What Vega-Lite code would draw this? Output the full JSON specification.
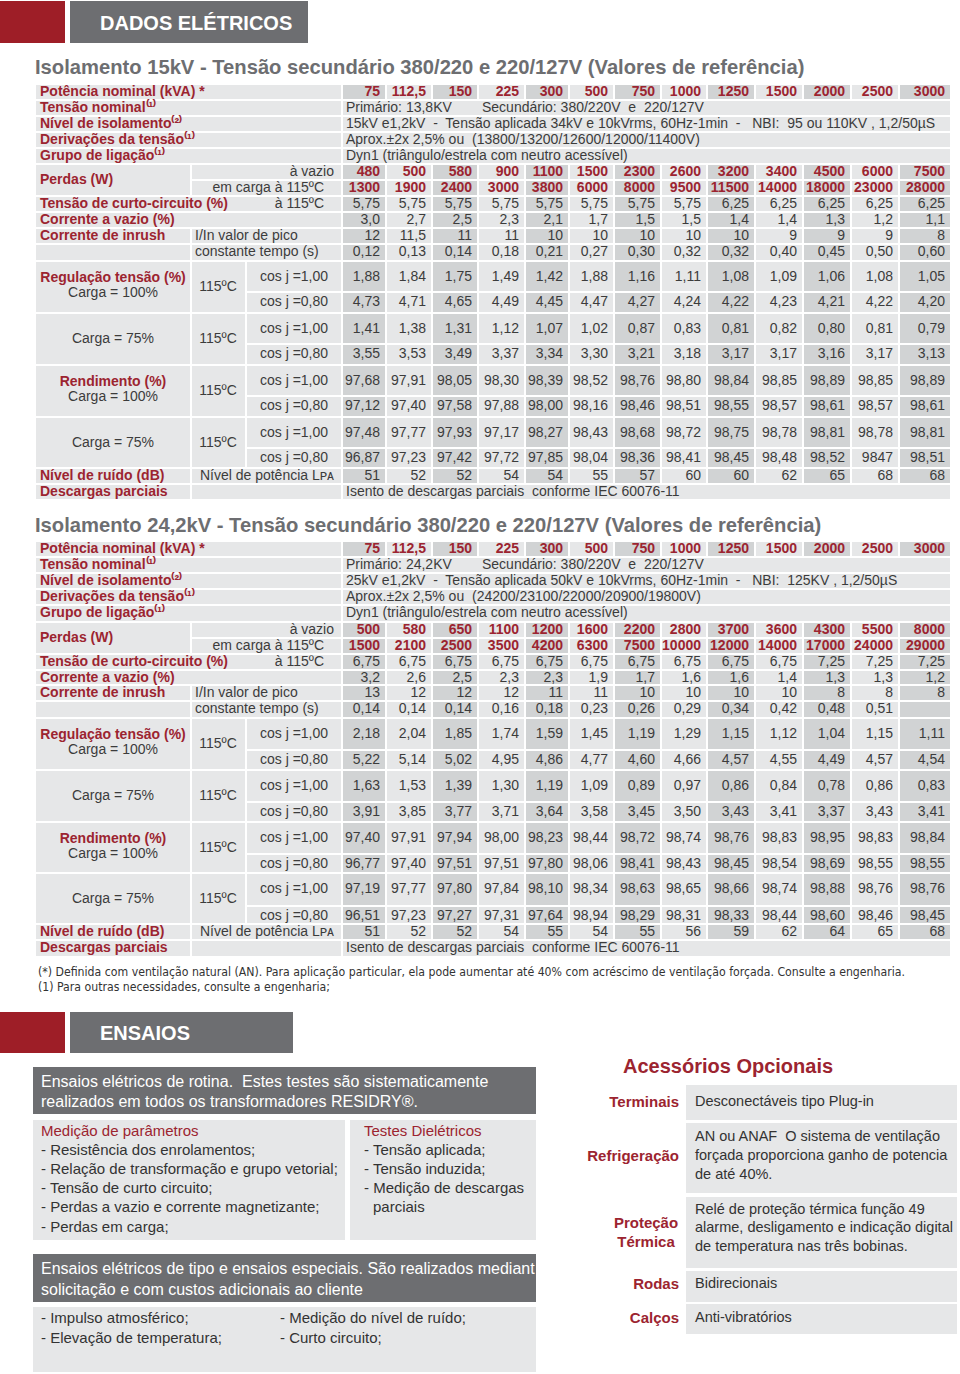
{
"$schema": "https://vega.github.io/schema/vega-lite/v6.json",
"width": 960, "height": 1374,
"autosize": {"type": "fit", "contains": "padding"},
"padding": 0,
"background": "#ffffff",
"config": {"view": {"stroke": null}, "text": {"font": "Liberation Sans"}},
"datasets": {
"tcells": [
{"c0":-3,"c1":0,"r0":0,"r1":1},{"c0":0,"c1":13,"r0":0,"r1":1},
{"c0":-3,"c1":0,"r0":1,"r1":2},{"c0":0,"c1":13,"r0":1,"r1":2},
{"c0":-3,"c1":0,"r0":2,"r1":3},{"c0":0,"c1":13,"r0":2,"r1":3},
{"c0":-3,"c1":0,"r0":3,"r1":4},{"c0":0,"c1":13,"r0":3,"r1":4},
{"c0":-3,"c1":0,"r0":4,"r1":5},{"c0":0,"c1":13,"r0":4,"r1":5},
{"c0":-3,"c1":-2,"r0":5,"r1":7},{"c0":-2,"c1":0,"r0":5,"r1":6},{"c0":-2,"c1":0,"r0":6,"r1":7},
{"c0":0,"c1":13,"r0":5,"r1":11},
{"c0":-3,"c1":0,"r0":7,"r1":8},
{"c0":-3,"c1":0,"r0":8,"r1":9},
{"c0":-3,"c1":-2,"r0":9,"r1":10},{"c0":-2,"c1":0,"r0":9,"r1":10},
{"c0":-3,"c1":-2,"r0":10,"r1":11},{"c0":-2,"c1":0,"r0":10,"r1":11},
{"c0":-3,"c1":-2,"r0":11,"r1":13},{"c0":-2,"c1":-1,"r0":11,"r1":13},{"c0":-1,"c1":0,"r0":11,"r1":12},{"c0":-1,"c1":0,"r0":12,"r1":13},
{"c0":-3,"c1":-2,"r0":13,"r1":15},{"c0":-2,"c1":-1,"r0":13,"r1":15},{"c0":-1,"c1":0,"r0":13,"r1":14},{"c0":-1,"c1":0,"r0":14,"r1":15},
{"c0":-3,"c1":-2,"r0":15,"r1":17},{"c0":-2,"c1":-1,"r0":15,"r1":17},{"c0":-1,"c1":0,"r0":15,"r1":16},{"c0":-1,"c1":0,"r0":16,"r1":17},
{"c0":-3,"c1":-2,"r0":17,"r1":19},{"c0":-2,"c1":-1,"r0":17,"r1":19},{"c0":-1,"c1":0,"r0":17,"r1":18},{"c0":-1,"c1":0,"r0":18,"r1":19},
{"c0":0,"c1":13,"r0":11,"r1":20},
{"c0":-3,"c1":-2,"r0":19,"r1":20},{"c0":-2,"c1":0,"r0":19,"r1":20},
{"c0":-3,"c1":-2,"r0":20,"r1":21},{"c0":-2,"c1":0,"r0":20,"r1":21},{"c0":0,"c1":13,"r0":20,"r1":21}
],
"tstripes": [
{"c0":0,"c1":1,"r0":0,"r1":1},{"c0":2,"c1":3,"r0":0,"r1":1},{"c0":4,"c1":5,"r0":0,"r1":1},{"c0":6,"c1":7,"r0":0,"r1":1},{"c0":8,"c1":9,"r0":0,"r1":1},{"c0":10,"c1":11,"r0":0,"r1":1},{"c0":12,"c1":13,"r0":0,"r1":1},
{"c0":0,"c1":1,"r0":5,"r1":11},{"c0":2,"c1":3,"r0":5,"r1":11},{"c0":4,"c1":5,"r0":5,"r1":11},{"c0":6,"c1":7,"r0":5,"r1":11},{"c0":8,"c1":9,"r0":5,"r1":11},{"c0":10,"c1":11,"r0":5,"r1":11},{"c0":12,"c1":13,"r0":5,"r1":11},
{"c0":0,"c1":1,"r0":11,"r1":20},{"c0":2,"c1":3,"r0":11,"r1":20},{"c0":4,"c1":5,"r0":11,"r1":20},{"c0":6,"c1":7,"r0":11,"r1":20},{"c0":8,"c1":9,"r0":11,"r1":20},{"c0":10,"c1":11,"r0":11,"r1":20},{"c0":12,"c1":13,"r0":11,"r1":20}
],
"tseps": [{"r":6},{"r":7},{"r":8},{"r":9},{"r":10},{"r":12},{"r":13},{"r":14},{"r":15},{"r":16},{"r":17},{"r":18},{"r":19}],
"cols": [{"kva":"75","k":1},{"kva":"112,5","k":2},{"kva":"150","k":3},{"kva":"225","k":4},{"kva":"300","k":5},{"kva":"500","k":6},{"kva":"750","k":7},{"kva":"1000","k":8},{"kva":"1250","k":9},{"kva":"1500","k":10},{"kva":"2000","k":11},{"kva":"2500","k":12},{"kva":"3000","k":13}],
"tlabels": [
{"r":0,"c":-3,"role":"main","t":"Potência nominal (kVA) *"},
{"r":1,"c":-3,"role":"main","t":"Tensão nominal⁽¹⁾"},
{"r":2,"c":-3,"role":"main","t":"Nível de isolamento⁽²⁾"},
{"r":3,"c":-3,"role":"main","t":"Derivações da tensão⁽¹⁾"},
{"r":4,"c":-3,"role":"main","t":"Grupo de ligação⁽¹⁾"},
{"r":5,"c":-3,"role":"mainMid","t":"Perdas (W)"},
{"r":5,"c":0,"role":"subR","t":"à vazio"},
{"r":6,"c":0,"role":"subR2","t":"em carga à 115ºC"},
{"r":7,"c":-3,"role":"main","t":"Tensão de curto-circuito (%)"},
{"r":7,"c":0,"role":"subR2","t":"à 115ºC"},
{"r":8,"c":-3,"role":"main","t":"Corrente a vazio (%)"},
{"r":9,"c":-3,"role":"main","t":"Corrente de inrush"},
{"r":9,"c":-2,"role":"subL","t":"I/In valor de pico"},
{"r":10,"c":-2,"role":"subL","t":"constante tempo (s)"},
{"r":11,"c":-3,"role":"blockTitle","t":"Regulação tensão (%)"},
{"r":11,"c":-3,"role":"blockSub","t":"Carga = 100%"},
{"r":13,"c":-3,"role":"blockOne","t":"Carga = 75%"},
{"r":15,"c":-3,"role":"blockTitle","t":"Rendimento (%)"},
{"r":15,"c":-3,"role":"blockSub","t":"Carga = 100%"},
{"r":17,"c":-3,"role":"blockOne","t":"Carga = 75%"},
{"r":11,"c":-2,"role":"temp","t":"115ºC"},
{"r":13,"c":-2,"role":"temp","t":"115ºC"},
{"r":15,"c":-2,"role":"temp","t":"115ºC"},
{"r":17,"c":-2,"role":"temp","t":"115ºC"},
{"r":11,"c":-1,"role":"cos","t":"cos j =1,00"},
{"r":12,"c":-1,"role":"cos","t":"cos j =0,80"},
{"r":13,"c":-1,"role":"cos","t":"cos j =1,00"},
{"r":14,"c":-1,"role":"cos","t":"cos j =0,80"},
{"r":15,"c":-1,"role":"cos","t":"cos j =1,00"},
{"r":16,"c":-1,"role":"cos","t":"cos j =0,80"},
{"r":17,"c":-1,"role":"cos","t":"cos j =1,00"},
{"r":18,"c":-1,"role":"cos","t":"cos j =0,80"},
{"r":19,"c":-3,"role":"main","t":"Nível de ruído (dB)"},
{"r":19,"c":0,"role":"subR","t":"Nível de potência Lᴘᴀ"},
{"r":20,"c":-3,"role":"main","t":"Descargas parciais"}
],
"spans1": [
{"r":1,"c":0,"t":"Primário: 13,8KV"},
{"r":1,"c":3,"t":"Secundário: 380/220V\u00a0 e\u00a0 220/127V"},
{"r":2,"c":0,"t":"15kV e1,2kV\u00a0 -\u00a0 Tensão aplicada 34kV e 10kVrms, 60Hz-1min\u00a0 -\u00a0\u00a0 NBI:\u00a0 95 ou 110KV , 1,2/50µS"},
{"r":3,"c":0,"t":"Aprox.±2x 2,5% ou\u00a0 (13800/13200/12600/12000/11400V)"},
{"r":4,"c":0,"t":"Dyn1 (triângulo/estrela com neutro acessível)"},
{"r":20,"c":0,"t":"Isento de descargas parciais\u00a0 conforme IEC 60076-11"}
],
"spans2": [
{"r":1,"c":0,"t":"Primário: 24,2KV"},
{"r":1,"c":3,"t":"Secundário: 380/220V\u00a0 e\u00a0 220/127V"},
{"r":2,"c":0,"t":"25kV e1,2kV\u00a0 -\u00a0 Tensão aplicada 50kV e 10kVrms, 60Hz-1min\u00a0 -\u00a0\u00a0 NBI:\u00a0 125KV , 1,2/50µS"},
{"r":3,"c":0,"t":"Aprox.±2x 2,5% ou\u00a0 (24200/23100/22000/20900/19800V)"},
{"r":4,"c":0,"t":"Dyn1 (triângulo/estrela com neutro acessível)"},
{"r":20,"c":0,"t":"Isento de descargas parciais\u00a0 conforme IEC 60076-11"}
],
"vals1": [
{"r":5,"75":"480","112,5":"500","150":"580","225":"900","300":"1100","500":"1500","750":"2300","1000":"2600","1250":"3200","1500":"3400","2000":"4500","2500":"6000","3000":"7500"},
{"r":6,"75":"1300","112,5":"1900","150":"2400","225":"3000","300":"3800","500":"6000","750":"8000","1000":"9500","1250":"11500","1500":"14000","2000":"18000","2500":"23000","3000":"28000"},
{"r":7,"75":"5,75","112,5":"5,75","150":"5,75","225":"5,75","300":"5,75","500":"5,75","750":"5,75","1000":"5,75","1250":"6,25","1500":"6,25","2000":"6,25","2500":"6,25","3000":"6,25"},
{"r":8,"75":"3,0","112,5":"2,7","150":"2,5","225":"2,3","300":"2,1","500":"1,7","750":"1,5","1000":"1,5","1250":"1,4","1500":"1,4","2000":"1,3","2500":"1,2","3000":"1,1"},
{"r":9,"75":"12","112,5":"11,5","150":"11","225":"11","300":"10","500":"10","750":"10","1000":"10","1250":"10","1500":"9","2000":"9","2500":"9","3000":"8"},
{"r":10,"75":"0,12","112,5":"0,13","150":"0,14","225":"0,18","300":"0,21","500":"0,27","750":"0,30","1000":"0,32","1250":"0,32","1500":"0,40","2000":"0,45","2500":"0,50","3000":"0,60"},
{"r":11,"75":"1,88","112,5":"1,84","150":"1,75","225":"1,49","300":"1,42","500":"1,88","750":"1,16","1000":"1,11","1250":"1,08","1500":"1,09","2000":"1,06","2500":"1,08","3000":"1,05"},
{"r":12,"75":"4,73","112,5":"4,71","150":"4,65","225":"4,49","300":"4,45","500":"4,47","750":"4,27","1000":"4,24","1250":"4,22","1500":"4,23","2000":"4,21","2500":"4,22","3000":"4,20"},
{"r":13,"75":"1,41","112,5":"1,38","150":"1,31","225":"1,12","300":"1,07","500":"1,02","750":"0,87","1000":"0,83","1250":"0,81","1500":"0,82","2000":"0,80","2500":"0,81","3000":"0,79"},
{"r":14,"75":"3,55","112,5":"3,53","150":"3,49","225":"3,37","300":"3,34","500":"3,30","750":"3,21","1000":"3,18","1250":"3,17","1500":"3,17","2000":"3,16","2500":"3,17","3000":"3,13"},
{"r":15,"75":"97,68","112,5":"97,91","150":"98,05","225":"98,30","300":"98,39","500":"98,52","750":"98,76","1000":"98,80","1250":"98,84","1500":"98,85","2000":"98,89","2500":"98,85","3000":"98,89"},
{"r":16,"75":"97,12","112,5":"97,40","150":"97,58","225":"97,88","300":"98,00","500":"98,16","750":"98,46","1000":"98,51","1250":"98,55","1500":"98,57","2000":"98,61","2500":"98,57","3000":"98,61"},
{"r":17,"75":"97,48","112,5":"97,77","150":"97,93","225":"97,17","300":"98,27","500":"98,43","750":"98,68","1000":"98,72","1250":"98,75","1500":"98,78","2000":"98,81","2500":"98,78","3000":"98,81"},
{"r":18,"75":"96,87","112,5":"97,23","150":"97,42","225":"97,72","300":"97,85","500":"98,04","750":"98,36","1000":"98,41","1250":"98,45","1500":"98,48","2000":"98,52","2500":"9847","3000":"98,51"},
{"r":19,"75":"51","112,5":"52","150":"52","225":"54","300":"54","500":"55","750":"57","1000":"60","1250":"60","1500":"62","2000":"65","2500":"68","3000":"68"}
],
"vals2": [
{"r":5,"75":"500","112,5":"580","150":"650","225":"1100","300":"1200","500":"1600","750":"2200","1000":"2800","1250":"3700","1500":"3600","2000":"4300","2500":"5500","3000":"8000"},
{"r":6,"75":"1500","112,5":"2100","150":"2500","225":"3500","300":"4200","500":"6300","750":"7500","1000":"10000","1250":"12000","1500":"14000","2000":"17000","2500":"24000","3000":"29000"},
{"r":7,"75":"6,75","112,5":"6,75","150":"6,75","225":"6,75","300":"6,75","500":"6,75","750":"6,75","1000":"6,75","1250":"6,75","1500":"6,75","2000":"7,25","2500":"7,25","3000":"7,25"},
{"r":8,"75":"3,2","112,5":"2,6","150":"2,5","225":"2,3","300":"2,3","500":"1,9","750":"1,7","1000":"1,6","1250":"1,6","1500":"1,4","2000":"1,3","2500":"1,3","3000":"1,2"},
{"r":9,"75":"13","112,5":"12","150":"12","225":"12","300":"11","500":"11","750":"10","1000":"10","1250":"10","1500":"10","2000":"8","2500":"8","3000":"8"},
{"r":10,"75":"0,14","112,5":"0,14","150":"0,14","225":"0,16","300":"0,18","500":"0,23","750":"0,26","1000":"0,29","1250":"0,34","1500":"0,42","2000":"0,48","2500":"0,51","3000":""},
{"r":11,"75":"2,18","112,5":"2,04","150":"1,85","225":"1,74","300":"1,59","500":"1,45","750":"1,19","1000":"1,29","1250":"1,15","1500":"1,12","2000":"1,04","2500":"1,15","3000":"1,11"},
{"r":12,"75":"5,22","112,5":"5,14","150":"5,02","225":"4,95","300":"4,86","500":"4,77","750":"4,60","1000":"4,66","1250":"4,57","1500":"4,55","2000":"4,49","2500":"4,57","3000":"4,54"},
{"r":13,"75":"1,63","112,5":"1,53","150":"1,39","225":"1,30","300":"1,19","500":"1,09","750":"0,89","1000":"0,97","1250":"0,86","1500":"0,84","2000":"0,78","2500":"0,86","3000":"0,83"},
{"r":14,"75":"3,91","112,5":"3,85","150":"3,77","225":"3,71","300":"3,64","500":"3,58","750":"3,45","1000":"3,50","1250":"3,43","1500":"3,41","2000":"3,37","2500":"3,43","3000":"3,41"},
{"r":15,"75":"97,40","112,5":"97,91","150":"97,94","225":"98,00","300":"98,23","500":"98,44","750":"98,72","1000":"98,74","1250":"98,76","1500":"98,83","2000":"98,95","2500":"98,83","3000":"98,84"},
{"r":16,"75":"96,77","112,5":"97,40","150":"97,51","225":"97,51","300":"97,80","500":"98,06","750":"98,41","1000":"98,43","1250":"98,45","1500":"98,54","2000":"98,69","2500":"98,55","3000":"98,55"},
{"r":17,"75":"97,19","112,5":"97,77","150":"97,80","225":"97,84","300":"98,10","500":"98,34","750":"98,63","1000":"98,65","1250":"98,66","1500":"98,74","2000":"98,88","2500":"98,76","3000":"98,76"},
{"r":18,"75":"96,51","112,5":"97,23","150":"97,27","225":"97,31","300":"97,64","500":"98,94","750":"98,29","1000":"98,31","1250":"98,33","1500":"98,44","2000":"98,60","2500":"98,46","3000":"98,45"},
{"r":19,"75":"51","112,5":"52","150":"52","225":"54","300":"55","500":"54","750":"55","1000":"56","1250":"59","1500":"62","2000":"64","2500":"65","3000":"68"}
],
"redboxes": [{"col0":0,"col1":5,"line0":0,"line1":2},{"col0":0,"col1":5,"line0":7,"line1":9}],
"grayboxes": [{"col0":6,"col1":10,"line0":0,"line1":2},{"col0":6,"col1":9,"line0":7,"line1":9},{"col0":1,"col1":14,"line0":10,"line1":14},{"col0":1,"col1":14,"line0":34,"line1":40}],
"lightboxes": [{"col0":1,"col1":11,"line0":15,"line1":31},{"col0":12,"col1":14,"line0":15,"line1":31},{"col0":1,"col1":14,"line0":42,"line1":46},{"col0":17,"col1":19,"line0":12,"line1":15},{"col0":17,"col1":19,"line0":16,"line1":24},{"col0":17,"col1":19,"line0":25,"line1":35},{"col0":17,"col1":19,"line0":37,"line1":40},{"col0":17,"col1":19,"line0":41,"line1":44}],
"ptexts": [
{"col":7,"line":1,"role":"hdr","t":"DADOS ELÉTRICOS"},
{"col":7,"line":8,"role":"hdr","t":"ENSAIOS"},
{"col":2,"line":3,"role":"title","t":"Isolamento 15kV - Tensão secundário 380/220 e 220/127V (Valores de referência)"},
{"col":2,"line":4,"role":"title","t":"Isolamento 24,2kV - Tensão secundário 380/220 e 220/127V (Valores de referência)"},
{"col":3,"line":5,"role":"foot","t":"(*) Definida com ventilação natural (AN). Para aplicação particular, ela pode aumentar até 40% com acréscimo de ventilação forçada. Consulte a engenharia."},
{"col":3,"line":6,"role":"foot","t":"(1) Para outras necessidades, consulte a engenharia;"},
{"col":4,"line":11,"role":"boxw","t":"Ensaios elétricos de rotina.\u00a0 Estes testes são sistematicamente"},
{"col":4,"line":13,"role":"boxw","t":"realizados em todos os transformadores RESIDRY®."},
{"col":4,"line":36,"role":"boxw","t":"Ensaios elétricos de tipo e ensaios especiais. São realizados mediante"},
{"col":4,"line":39,"role":"boxw","t":"solicitação e com custos adicionais ao cliente"},
{"col":4,"line":17,"role":"subhead","t":"Medição de parâmetros"},
{"col":13,"line":17,"role":"subhead","t":"Testes Dielétricos"},
{"col":4,"line":19,"role":"item","t":"- Resistência dos enrolamentos;"},
{"col":4,"line":21,"role":"item","t":"- Relação de transformação e grupo vetorial;"},
{"col":4,"line":23,"role":"item","t":"- Tensão de curto circuito;"},
{"col":4,"line":26,"role":"item","t":"- Perdas a vazio e corrente magnetizante;"},
{"col":4,"line":29,"role":"item","t":"- Perdas em carga;"},
{"col":13,"line":19,"role":"item","t":"- Tensão aplicada;"},
{"col":13,"line":21,"role":"item","t":"- Tensão induzida;"},
{"col":13,"line":23,"role":"item","t":"- Medição de descargas"},
{"col":13,"line":26,"role":"itemIndent","t":"parciais"},
{"col":4,"line":43,"role":"item","t":"- Impulso atmosférico;"},
{"col":4,"line":45,"role":"item","t":"- Elevação de temperatura;"},
{"col":8,"line":43,"role":"item","t":"- Medição do nível de ruído;"},
{"col":8,"line":45,"role":"item","t":"- Curto circuito;"},
{"col":15,"line":10,"role":"acctitle","t":"Acessórios Opcionais"},
{"col":16,"line":13,"role":"acclabel","t":"Terminais"},
{"col":16,"line":20,"role":"acclabel","t":"Refrigeração"},
{"col":16,"line":28,"role":"acclabelc","t":"Proteção"},
{"col":16,"line":32,"role":"acclabelc","t":"Térmica"},
{"col":16,"line":38,"role":"acclabel","t":"Rodas"},
{"col":16,"line":43,"role":"acclabel","t":"Calços"},
{"col":18,"line":13,"role":"acctext","t":"Desconectáveis tipo Plug-in"},
{"col":18,"line":18,"role":"acctext","t":"AN ou ANAF\u00a0 O sistema de ventilação"},
{"col":18,"line":20,"role":"acctext","t":"forçada proporciona ganho de potencia"},
{"col":18,"line":22,"role":"acctext","t":"de até 40%."},
{"col":18,"line":27,"role":"acctext","t":"Relé de proteção térmica função 49"},
{"col":18,"line":30,"role":"acctext","t":"alarme, desligamento e indicação digital"},
{"col":18,"line":33,"role":"acctext","t":"de temperatura nas três bobinas."},
{"col":18,"line":38,"role":"acctext","t":"Bidirecionais"},
{"col":18,"line":43,"role":"acctext","t":"Anti-vibratórios"}
]
},
"layer": [
{
"layer": [
{"data":{"name":"tcells"},"mark":{"type":"rect","fill":"#e6e7e8","stroke":"#ffffff","strokeWidth":2},
 "encoding":{"x":{"field":"c0","type":"quantitative","axis":null,"scale":{"type":"linear","zero":false,"nice":false,"domain":[-3,-2,-1,0,1,2,3,4,5,6,7,8,9,10,11,12,13],"range":[35,191,246,342,386,432,478,525,569,614,661,707,755,803,851,899,951]}},"x2":{"field":"c1"},
 "y":{"field":"r0","type":"quantitative","axis":null,"scale":{"type":"linear","zero":false,"nice":false,"domain":[0,1,2,3,4,5,6,7,8,9,10,11,12,13,14,15,16,17,18,19,20,21],"range":[84,100,116,132,148,164,180,196,212,228,244,261,292,313,344,365,396,417,448,468,484,500]}},"y2":{"field":"r1"}}},
{"data":{"name":"tstripes"},"mark":{"type":"rect","fill":"#d1d3d4","stroke":"#ffffff","strokeWidth":2},
 "encoding":{"x":{"field":"c0","type":"quantitative","axis":null},"x2":{"field":"c1"},"y":{"field":"r0","type":"quantitative","axis":null},"y2":{"field":"r1"}}},
{"data":{"name":"tseps"},"mark":{"type":"rule","color":"#ffffff","strokeWidth":2},
 "encoding":{"x":{"datum":0,"type":"quantitative","axis":null},"x2":{"datum":13},"y":{"field":"r","type":"quantitative","axis":null}}},
{"data":{"name":"cols"},"mark":{"type":"text","fontSize":14,"fontWeight":"bold","color":"#9c2430","align":"right","baseline":"middle","dx":-6,"dy":8},
 "encoding":{"x":{"field":"k","type":"quantitative","axis":null},"y":{"datum":0,"type":"quantitative","axis":null},"text":{"field":"kva"}}},
{"data":{"name":"vals1"},
 "transform":[{"fold":["75","112,5","150","225","300","500","750","1000","1250","1500","2000","2500","3000"]},
  {"lookup":"key","from":{"data":{"values":[{"kva":"75","k":1},{"kva":"112,5","k":2},{"kva":"150","k":3},{"kva":"225","k":4},{"kva":"300","k":5},{"kva":"500","k":6},{"kva":"750","k":7},{"kva":"1000","k":8},{"kva":"1250","k":9},{"kva":"1500","k":10},{"kva":"2000","k":11},{"kva":"2500","k":12},{"kva":"3000","k":13}]},"key":"kva","fields":["k"]}}],
 "layer":[
  {"transform":[{"filter":"datum.r==5||datum.r==6"}],"mark":{"type":"text","fontSize":14,"fontWeight":"bold","color":"#9c2430","align":"right","baseline":"middle","dx":-6,"dy":8},
   "encoding":{"x":{"field":"k","type":"quantitative","axis":null},"y":{"field":"r","type":"quantitative","axis":null},"text":{"field":"value"}}},
  {"transform":[{"filter":"(datum.r>=7&&datum.r<=10)||datum.r==19"}],"mark":{"type":"text","fontSize":14,"color":"#3c3c3c","align":"right","baseline":"middle","dx":-6,"dy":8},
   "encoding":{"x":{"field":"k","type":"quantitative","axis":null},"y":{"field":"r","type":"quantitative","axis":null},"text":{"field":"value"}}},
  {"transform":[{"filter":"datum.r>=11&&datum.r<=18&&datum.r%2==1"}],"mark":{"type":"text","fontSize":14,"color":"#3c3c3c","align":"right","baseline":"middle","dx":-6,"dy":16},
   "encoding":{"x":{"field":"k","type":"quantitative","axis":null},"y":{"field":"r","type":"quantitative","axis":null},"text":{"field":"value"}}},
  {"transform":[{"filter":"datum.r>=12&&datum.r<=18&&datum.r%2==0"}],"mark":{"type":"text","fontSize":14,"color":"#3c3c3c","align":"right","baseline":"middle","dx":-6,"dy":10},
   "encoding":{"x":{"field":"k","type":"quantitative","axis":null},"y":{"field":"r","type":"quantitative","axis":null},"text":{"field":"value"}}}
 ]},
{"data":{"name":"tlabels"},
 "layer":[
  {"transform":[{"filter":"datum.role=='main'"}],"mark":{"type":"text","fontSize":14,"fontWeight":"bold","color":"#9c2430","align":"left","baseline":"middle","dx":5,"dy":8},
   "encoding":{"x":{"field":"c","type":"quantitative","axis":null},"y":{"field":"r","type":"quantitative","axis":null},"text":{"field":"t"}}},
  {"transform":[{"filter":"datum.role=='mainMid'"}],"mark":{"type":"text","fontSize":14,"fontWeight":"bold","color":"#9c2430","align":"left","baseline":"middle","dx":5,"dy":16},
   "encoding":{"x":{"field":"c","type":"quantitative","axis":null},"y":{"field":"r","type":"quantitative","axis":null},"text":{"field":"t"}}},
  {"transform":[{"filter":"datum.role=='subR'"}],"mark":{"type":"text","fontSize":14,"color":"#3c3c3c","align":"right","baseline":"middle","dx":-8,"dy":8},
   "encoding":{"x":{"field":"c","type":"quantitative","axis":null},"y":{"field":"r","type":"quantitative","axis":null},"text":{"field":"t"}}},
  {"transform":[{"filter":"datum.role=='subR2'"}],"mark":{"type":"text","fontSize":14,"color":"#3c3c3c","align":"right","baseline":"middle","dx":-18,"dy":8},
   "encoding":{"x":{"field":"c","type":"quantitative","axis":null},"y":{"field":"r","type":"quantitative","axis":null},"text":{"field":"t"}}},
  {"transform":[{"filter":"datum.role=='subL'"}],"mark":{"type":"text","fontSize":14,"color":"#3c3c3c","align":"left","baseline":"middle","dx":4,"dy":8},
   "encoding":{"x":{"field":"c","type":"quantitative","axis":null},"y":{"field":"r","type":"quantitative","axis":null},"text":{"field":"t"}}},
  {"transform":[{"filter":"datum.role=='blockTitle'"}],"mark":{"type":"text","fontSize":14,"fontWeight":"bold","color":"#9c2430","align":"center","baseline":"middle","dx":78,"dy":17},
   "encoding":{"x":{"field":"c","type":"quantitative","axis":null},"y":{"field":"r","type":"quantitative","axis":null},"text":{"field":"t"}}},
  {"transform":[{"filter":"datum.role=='blockSub'"}],"mark":{"type":"text","fontSize":14,"color":"#3c3c3c","align":"center","baseline":"middle","dx":78,"dy":32},
   "encoding":{"x":{"field":"c","type":"quantitative","axis":null},"y":{"field":"r","type":"quantitative","axis":null},"text":{"field":"t"}}},
  {"transform":[{"filter":"datum.role=='blockOne'"}],"mark":{"type":"text","fontSize":14,"color":"#3c3c3c","align":"center","baseline":"middle","dx":78,"dy":26},
   "encoding":{"x":{"field":"c","type":"quantitative","axis":null},"y":{"field":"r","type":"quantitative","axis":null},"text":{"field":"t"}}},
  {"transform":[{"filter":"datum.role=='temp'"}],"mark":{"type":"text","fontSize":14,"color":"#3c3c3c","align":"center","baseline":"middle","dx":27,"dy":26},
   "encoding":{"x":{"field":"c","type":"quantitative","axis":null},"y":{"field":"r","type":"quantitative","axis":null},"text":{"field":"t"}}},
  {"transform":[{"filter":"datum.role=='cos'&&datum.r%2==1"}],"mark":{"type":"text","fontSize":14,"color":"#3c3c3c","align":"center","baseline":"middle","dx":48,"dy":16},
   "encoding":{"x":{"field":"c","type":"quantitative","axis":null},"y":{"field":"r","type":"quantitative","axis":null},"text":{"field":"t"}}},
  {"transform":[{"filter":"datum.role=='cos'&&datum.r%2==0"}],"mark":{"type":"text","fontSize":14,"color":"#3c3c3c","align":"center","baseline":"middle","dx":48,"dy":10},
   "encoding":{"x":{"field":"c","type":"quantitative","axis":null},"y":{"field":"r","type":"quantitative","axis":null},"text":{"field":"t"}}}
 ]},
{"data":{"name":"spans1"},"mark":{"type":"text","fontSize":14,"color":"#3c3c3c","align":"left","baseline":"middle","dx":4,"dy":8},
 "encoding":{"x":{"field":"c","type":"quantitative","axis":null},"y":{"field":"r","type":"quantitative","axis":null},"text":{"field":"t"}}}
]
},
{
"layer": [
{"data":{"name":"tcells"},"mark":{"type":"rect","fill":"#e6e7e8","stroke":"#ffffff","strokeWidth":2},
 "encoding":{"x":{"field":"c0","type":"quantitative","axis":null,"scale":{"type":"linear","zero":false,"nice":false,"domain":[-3,-2,-1,0,1,2,3,4,5,6,7,8,9,10,11,12,13],"range":[35,191,246,342,386,432,478,525,569,614,661,707,755,803,851,899,951]}},"x2":{"field":"c1"},
 "y":{"field":"r0","type":"quantitative","axis":null,"scale":{"type":"linear","zero":false,"nice":false,"domain":[0,1,2,3,4,5,6,7,8,9,10,11,12,13,14,15,16,17,18,19,20,21],"range":[541,557,573,589,605,622,638,654,670,685,701,718,750,770,802,822,854,873,906,924,940,957]}},"y2":{"field":"r1"}}},
{"data":{"name":"tstripes"},"mark":{"type":"rect","fill":"#d1d3d4","stroke":"#ffffff","strokeWidth":2},
 "encoding":{"x":{"field":"c0","type":"quantitative","axis":null},"x2":{"field":"c1"},"y":{"field":"r0","type":"quantitative","axis":null},"y2":{"field":"r1"}}},
{"data":{"name":"tseps"},"mark":{"type":"rule","color":"#ffffff","strokeWidth":2},
 "encoding":{"x":{"datum":0,"type":"quantitative","axis":null},"x2":{"datum":13},"y":{"field":"r","type":"quantitative","axis":null}}},
{"data":{"name":"cols"},"mark":{"type":"text","fontSize":14,"fontWeight":"bold","color":"#9c2430","align":"right","baseline":"middle","dx":-6,"dy":8},
 "encoding":{"x":{"field":"k","type":"quantitative","axis":null},"y":{"datum":0,"type":"quantitative","axis":null},"text":{"field":"kva"}}},
{"data":{"name":"vals2"},
 "transform":[{"fold":["75","112,5","150","225","300","500","750","1000","1250","1500","2000","2500","3000"]},
  {"lookup":"key","from":{"data":{"values":[{"kva":"75","k":1},{"kva":"112,5","k":2},{"kva":"150","k":3},{"kva":"225","k":4},{"kva":"300","k":5},{"kva":"500","k":6},{"kva":"750","k":7},{"kva":"1000","k":8},{"kva":"1250","k":9},{"kva":"1500","k":10},{"kva":"2000","k":11},{"kva":"2500","k":12},{"kva":"3000","k":13}]},"key":"kva","fields":["k"]}}],
 "layer":[
  {"transform":[{"filter":"datum.r==5||datum.r==6"}],"mark":{"type":"text","fontSize":14,"fontWeight":"bold","color":"#9c2430","align":"right","baseline":"middle","dx":-6,"dy":8},
   "encoding":{"x":{"field":"k","type":"quantitative","axis":null},"y":{"field":"r","type":"quantitative","axis":null},"text":{"field":"value"}}},
  {"transform":[{"filter":"(datum.r>=7&&datum.r<=10)||datum.r==19"}],"mark":{"type":"text","fontSize":14,"color":"#3c3c3c","align":"right","baseline":"middle","dx":-6,"dy":8},
   "encoding":{"x":{"field":"k","type":"quantitative","axis":null},"y":{"field":"r","type":"quantitative","axis":null},"text":{"field":"value"}}},
  {"transform":[{"filter":"datum.r>=11&&datum.r<=18&&datum.r%2==1"}],"mark":{"type":"text","fontSize":14,"color":"#3c3c3c","align":"right","baseline":"middle","dx":-6,"dy":16},
   "encoding":{"x":{"field":"k","type":"quantitative","axis":null},"y":{"field":"r","type":"quantitative","axis":null},"text":{"field":"value"}}},
  {"transform":[{"filter":"datum.r>=12&&datum.r<=18&&datum.r%2==0"}],"mark":{"type":"text","fontSize":14,"color":"#3c3c3c","align":"right","baseline":"middle","dx":-6,"dy":10},
   "encoding":{"x":{"field":"k","type":"quantitative","axis":null},"y":{"field":"r","type":"quantitative","axis":null},"text":{"field":"value"}}}
 ]},
{"data":{"name":"tlabels"},
 "layer":[
  {"transform":[{"filter":"datum.role=='main'"}],"mark":{"type":"text","fontSize":14,"fontWeight":"bold","color":"#9c2430","align":"left","baseline":"middle","dx":5,"dy":8},
   "encoding":{"x":{"field":"c","type":"quantitative","axis":null},"y":{"field":"r","type":"quantitative","axis":null},"text":{"field":"t"}}},
  {"transform":[{"filter":"datum.role=='mainMid'"}],"mark":{"type":"text","fontSize":14,"fontWeight":"bold","color":"#9c2430","align":"left","baseline":"middle","dx":5,"dy":16},
   "encoding":{"x":{"field":"c","type":"quantitative","axis":null},"y":{"field":"r","type":"quantitative","axis":null},"text":{"field":"t"}}},
  {"transform":[{"filter":"datum.role=='subR'"}],"mark":{"type":"text","fontSize":14,"color":"#3c3c3c","align":"right","baseline":"middle","dx":-8,"dy":8},
   "encoding":{"x":{"field":"c","type":"quantitative","axis":null},"y":{"field":"r","type":"quantitative","axis":null},"text":{"field":"t"}}},
  {"transform":[{"filter":"datum.role=='subR2'"}],"mark":{"type":"text","fontSize":14,"color":"#3c3c3c","align":"right","baseline":"middle","dx":-18,"dy":8},
   "encoding":{"x":{"field":"c","type":"quantitative","axis":null},"y":{"field":"r","type":"quantitative","axis":null},"text":{"field":"t"}}},
  {"transform":[{"filter":"datum.role=='subL'"}],"mark":{"type":"text","fontSize":14,"color":"#3c3c3c","align":"left","baseline":"middle","dx":4,"dy":8},
   "encoding":{"x":{"field":"c","type":"quantitative","axis":null},"y":{"field":"r","type":"quantitative","axis":null},"text":{"field":"t"}}},
  {"transform":[{"filter":"datum.role=='blockTitle'"}],"mark":{"type":"text","fontSize":14,"fontWeight":"bold","color":"#9c2430","align":"center","baseline":"middle","dx":78,"dy":17},
   "encoding":{"x":{"field":"c","type":"quantitative","axis":null},"y":{"field":"r","type":"quantitative","axis":null},"text":{"field":"t"}}},
  {"transform":[{"filter":"datum.role=='blockSub'"}],"mark":{"type":"text","fontSize":14,"color":"#3c3c3c","align":"center","baseline":"middle","dx":78,"dy":32},
   "encoding":{"x":{"field":"c","type":"quantitative","axis":null},"y":{"field":"r","type":"quantitative","axis":null},"text":{"field":"t"}}},
  {"transform":[{"filter":"datum.role=='blockOne'"}],"mark":{"type":"text","fontSize":14,"color":"#3c3c3c","align":"center","baseline":"middle","dx":78,"dy":26},
   "encoding":{"x":{"field":"c","type":"quantitative","axis":null},"y":{"field":"r","type":"quantitative","axis":null},"text":{"field":"t"}}},
  {"transform":[{"filter":"datum.role=='temp'"}],"mark":{"type":"text","fontSize":14,"color":"#3c3c3c","align":"center","baseline":"middle","dx":27,"dy":26},
   "encoding":{"x":{"field":"c","type":"quantitative","axis":null},"y":{"field":"r","type":"quantitative","axis":null},"text":{"field":"t"}}},
  {"transform":[{"filter":"datum.role=='cos'&&datum.r%2==1"}],"mark":{"type":"text","fontSize":14,"color":"#3c3c3c","align":"center","baseline":"middle","dx":48,"dy":16},
   "encoding":{"x":{"field":"c","type":"quantitative","axis":null},"y":{"field":"r","type":"quantitative","axis":null},"text":{"field":"t"}}},
  {"transform":[{"filter":"datum.role=='cos'&&datum.r%2==0"}],"mark":{"type":"text","fontSize":14,"color":"#3c3c3c","align":"center","baseline":"middle","dx":48,"dy":10},
   "encoding":{"x":{"field":"c","type":"quantitative","axis":null},"y":{"field":"r","type":"quantitative","axis":null},"text":{"field":"t"}}}
 ]},
{"data":{"name":"spans2"},"mark":{"type":"text","fontSize":14,"color":"#3c3c3c","align":"left","baseline":"middle","dx":4,"dy":8},
 "encoding":{"x":{"field":"c","type":"quantitative","axis":null},"y":{"field":"r","type":"quantitative","axis":null},"text":{"field":"t"}}}
]
},
{
"layer": [
{"data":{"name":"redboxes"},"mark":{"type":"rect","fill":"#9e1e27"},
 "encoding":{"x":{"field":"col0","type":"quantitative","axis":null,"scale":{"type":"linear","zero":false,"nice":false,"domain":[0,1,2,3,4,5,6,7,8,9,10,11,12,13,14,15,16,17,18,19],"range":[0,33,35,38,41,65,70,100,280,293,308,345,350,364,536,623,679,686,695,957]}},"x2":{"field":"col1"},
 "y":{"field":"line0","type":"quantitative","axis":null,"scale":{"type":"linear","zero":false,"nice":false,"domain":[0,1,2,3,4,5,6,7,8,9,10,11,12,13,14,15,16,17,18,19,20,21,22,23,24,25,26,27,28,29,30,31,32,33,34,35,36,37,38,39,40,41,42,43,44,45,46],"range":[1,24,43,68,526,972,987,1012,1034,1053,1067,1082,1085,1102,1114,1120,1123,1131,1137,1150,1156,1169,1175,1188,1193,1197,1207,1210,1223,1227,1228,1240,1242,1247,1254,1268,1269,1271,1284,1290,1302,1304,1307,1318,1334,1338,1372]}},"y2":{"field":"line1"}}},
{"data":{"name":"grayboxes"},"mark":{"type":"rect","fill":"#6d6e71"},
 "encoding":{"x":{"field":"col0","type":"quantitative","axis":null},"x2":{"field":"col1"},"y":{"field":"line0","type":"quantitative","axis":null},"y2":{"field":"line1"}}},
{"data":{"name":"lightboxes"},"mark":{"type":"rect","fill":"#e6e7e8"},
 "encoding":{"x":{"field":"col0","type":"quantitative","axis":null},"x2":{"field":"col1"},"y":{"field":"line0","type":"quantitative","axis":null},"y2":{"field":"line1"}}},
{"data":{"name":"ptexts"},
 "layer":[
  {"transform":[{"filter":"datum.role=='hdr'"}],"mark":{"type":"text","fontSize":20,"fontWeight":"bold","color":"#ffffff","align":"left","baseline":"middle"},
   "encoding":{"x":{"field":"col","type":"quantitative","axis":null},"y":{"field":"line","type":"quantitative","axis":null},"text":{"field":"t"}}},
  {"transform":[{"filter":"datum.role=='title'"}],"mark":{"type":"text","fontSize":20.2,"fontWeight":"bold","color":"#6d6e71","align":"left","baseline":"middle"},
   "encoding":{"x":{"field":"col","type":"quantitative","axis":null},"y":{"field":"line","type":"quantitative","axis":null},"text":{"field":"t"}}},
  {"transform":[{"filter":"datum.role=='foot'"}],"mark":{"type":"text","font":"Liberation Sans Narrow, DejaVu Sans Condensed, Liberation Sans","fontSize":12.2,"color":"#333333","align":"left","baseline":"middle"},
   "encoding":{"x":{"field":"col","type":"quantitative","axis":null},"y":{"field":"line","type":"quantitative","axis":null},"text":{"field":"t"}}},
  {"transform":[{"filter":"datum.role=='boxw'"}],"mark":{"type":"text","fontSize":16,"color":"#ffffff","align":"left","baseline":"middle","limit":495,"ellipsis":"\u200b"},
   "encoding":{"x":{"field":"col","type":"quantitative","axis":null},"y":{"field":"line","type":"quantitative","axis":null},"text":{"field":"t"}}},
  {"transform":[{"filter":"datum.role=='subhead'"}],"mark":{"type":"text","fontSize":15,"color":"#9c2430","align":"left","baseline":"middle"},
   "encoding":{"x":{"field":"col","type":"quantitative","axis":null},"y":{"field":"line","type":"quantitative","axis":null},"text":{"field":"t"}}},
  {"transform":[{"filter":"datum.role=='item'"}],"mark":{"type":"text","fontSize":15,"color":"#333333","align":"left","baseline":"middle"},
   "encoding":{"x":{"field":"col","type":"quantitative","axis":null},"y":{"field":"line","type":"quantitative","axis":null},"text":{"field":"t"}}},
  {"transform":[{"filter":"datum.role=='itemIndent'"}],"mark":{"type":"text","fontSize":15,"color":"#333333","align":"left","baseline":"middle","dx":9},
   "encoding":{"x":{"field":"col","type":"quantitative","axis":null},"y":{"field":"line","type":"quantitative","axis":null},"text":{"field":"t"}}},
  {"transform":[{"filter":"datum.role=='acctext'"}],"mark":{"type":"text","fontSize":14.5,"color":"#333333","align":"left","baseline":"middle"},
   "encoding":{"x":{"field":"col","type":"quantitative","axis":null},"y":{"field":"line","type":"quantitative","axis":null},"text":{"field":"t"}}},
  {"transform":[{"filter":"datum.role=='acctitle'"}],"mark":{"type":"text","fontSize":20,"fontWeight":"bold","color":"#9c2430","align":"left","baseline":"middle"},
   "encoding":{"x":{"field":"col","type":"quantitative","axis":null},"y":{"field":"line","type":"quantitative","axis":null},"text":{"field":"t"}}},
  {"transform":[{"filter":"datum.role=='acclabel'"}],"mark":{"type":"text","fontSize":15,"fontWeight":"bold","color":"#9c2430","align":"right","baseline":"middle"},
   "encoding":{"x":{"field":"col","type":"quantitative","axis":null},"y":{"field":"line","type":"quantitative","axis":null},"text":{"field":"t"}}},
  {"transform":[{"filter":"datum.role=='acclabelc'"}],"mark":{"type":"text","fontSize":15,"fontWeight":"bold","color":"#9c2430","align":"center","baseline":"middle","dx":-33},
   "encoding":{"x":{"field":"col","type":"quantitative","axis":null},"y":{"field":"line","type":"quantitative","axis":null},"text":{"field":"t"}}}
 ]}
]
}
],
"resolve": {"scale": {"x": "independent", "y": "independent"}}
}
